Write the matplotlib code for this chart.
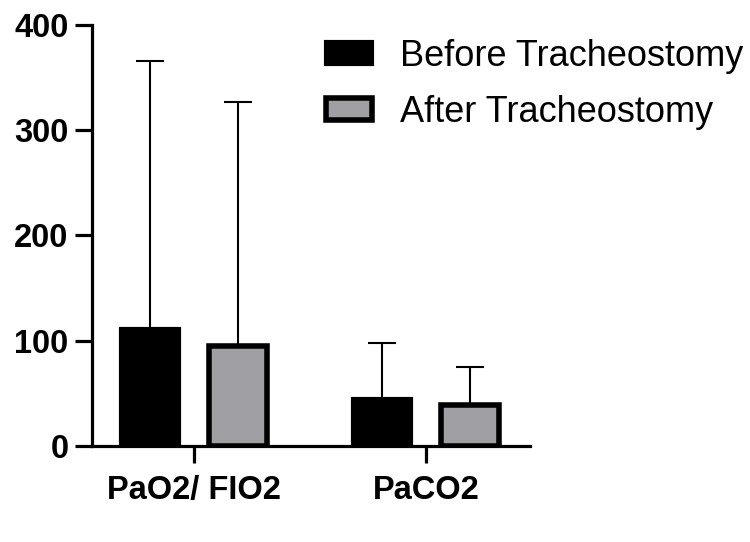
import numpy as np
import matplotlib.pyplot as plt

plt.rcParams['font.family'] = ['Liberation Sans', 'DejaVu Sans']

categories = ["PaO2/ FIO2", "PaCO2"]
before_mean = [111, 45]
before_sd = [255, 53]
after_mean = [95, 39]
after_sd = [232, 36]
labels = ["Before Tracheostomy", "After Tracheostomy"]

fig = plt.figure(figsize=(7.5, 5.42), dpi=100)
ax = fig.add_axes([0.1227, 0.177, 0.584, 0.777])

x = np.arange(len(categories))
w = 0.25
off = 0.19

ax.bar(x - off, before_mean, w, color='black', edgecolor='black', linewidth=3,
       label=labels[0], zorder=3)
ax.bar(x + off, after_mean, w, color='#a0a0a4', edgecolor='black', linewidth=4,
       label=labels[1], zorder=3)
ax.errorbar(x - off, before_mean, yerr=[np.zeros(2), before_sd], fmt='none',
            ecolor='black', elinewidth=1.5, capsize=10, capthick=1.5, zorder=2)
ax.errorbar(x + off, after_mean, yerr=[np.zeros(2), after_sd], fmt='none',
            ecolor='black', elinewidth=1.5, capsize=10, capthick=1.5, zorder=2)

ax.set_xlim(-0.44, 1.448)
ax.set_ylim(0, 400)
ax.set_yticks([0, 100, 200, 300, 400])
ax.set_xticks(x)
ax.set_xticklabels(categories)

for s in ['top', 'right']:
    ax.spines[s].set_visible(False)
for s in ['left', 'bottom']:
    ax.spines[s].set_linewidth(2.3)
ax.tick_params(axis='both', width=2.3, length=12, labelsize=23.5)
ax.tick_params(axis='x', pad=9)
ax.tick_params(axis='y', pad=5)
for t in ax.get_xticklabels() + ax.get_yticklabels():
    t.set_fontweight('bold')

fig.legend(loc='upper left', bbox_to_anchor=(0.4347, 0.928), frameon=False,
           fontsize=26, handlelength=1.28, handleheight=0.55, handletextpad=0.78,
           labelspacing=0.58, borderpad=0, borderaxespad=0)

fig.savefig('out.png', dpi=100)
